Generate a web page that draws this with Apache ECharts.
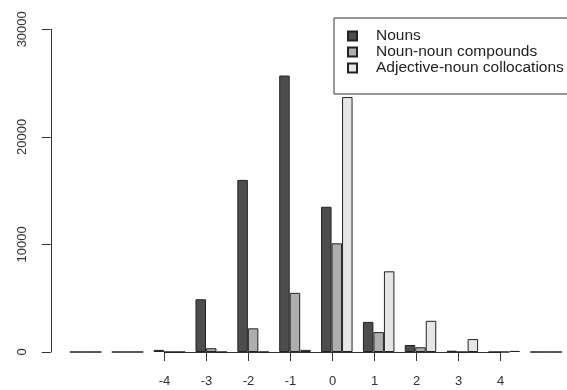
<!DOCTYPE html>
<html>
<head>
<meta charset="utf-8">
<script src="https://cdn.jsdelivr.net/npm/echarts@6/dist/echarts.min.js"></script>
<style>
  body { margin: 0; background: #fff; }
  #main { width: 567px; height: 390px; }
</style>
</head>
<body>
<div id="main"></div>
<script>
// categories (log ratio bins) and counts
let categories = ["-6", "-5", "-4", "-3", "-2", "-1", "0", "1", "2", "3", "4", "5"];
let nouns = [0, 0, 200, 4900, 16000, 25700, 13500, 2800, 650, 120, 0, 0];
let nounNoun = [0, 0, 0, 350, 2200, 5500, 10100, 1850, 440, 0, 0, 0];
let adjNoun = [0, 0, 0, 0, 0, 200, 23700, 7500, 2900, 1200, 100, 0];
let seriesNames = ["Nouns", "Noun-noun compounds", "Adjective-noun collocations"];
let barColors = ["#4d4d4d", "#aeaeae", "#e6e6e6"];
let tickLabels = [-4, 4];
let yTicks = [0, 30000, 10000];

let myChart = echarts.init(document.getElementById("main"));
let font = "'Liberation Sans', Arial, sans-serif";

function barSeries(i, data) {
  return {
    name: seriesNames[i],
    type: "bar",
    xAxisIndex: 0,
    yAxisIndex: 0,
    barWidth: 10.5,
    barGap: "0%",
    data: data,
    itemStyle: {
      color: barColors[i],
      borderColor: "#222",
      borderWidth: 1
    },
    emphasis: { disabled: true }
  };
}

let option = {
  animation: false,
  backgroundColor: "#fff",
  textStyle: { fontFamily: font },
  grid: [
    { left: 64.75, width: 504, top: 29.3, bottom: 38 },
    // second grid only carries the R-style x axis (ticks from -4 to 4)
    { left: 164.5, width: 336, top: 29.3, bottom: 38 }
  ],
  legend: {
    orient: "vertical",
    left: 334,
    top: 18,
    padding: [10, 10, 18, 13],
    itemGap: 0,
    itemWidth: 9,
    itemHeight: 9,
    icon: "rect",
    borderColor: "#333",
    borderWidth: 1,
    data: seriesNames,
    textStyle: {
      fontFamily: font,
      fontSize: 15.5,
      color: "#222",
      lineHeight: 15.5,
      padding: [0, 0, 0, 14]
    }
  },
  xAxis: [
    {
      type: "category",
      gridIndex: 0,
      data: categories,
      axisLine: { show: false },
      axisTick: { show: false },
      axisLabel: { show: false }
    },
    {
      type: "value",
      gridIndex: 1,
      min: tickLabels[0],
      max: tickLabels[1],
      interval: 1,
      splitLine: { show: false },
      axisLine: { show: true, lineStyle: { color: "#333", width: 1 } },
      axisTick: { show: true, length: 9, lineStyle: { color: "#333" } },
      axisLabel: { margin: 23, fontSize: 13, color: "#333", fontFamily: font }
    }
  ],
  yAxis: [
    {
      type: "value",
      gridIndex: 0,
      min: yTicks[0],
      max: yTicks[1],
      interval: yTicks[2],
      offset: 14,
      splitLine: { show: false },
      axisLine: { show: true, lineStyle: { color: "#333", width: 1 } },
      axisTick: { show: true, length: 9, lineStyle: { color: "#333" } },
      axisLabel: {
        rotate: 90,
        margin: 22,
        fontSize: 13,
        color: "#333",
        fontFamily: font,
        formatter: function (v) {
          return String(v);
        }
      }
    },
    {
      type: "value",
      gridIndex: 1,
      show: false
    }
  ],
  series: [
    barSeries(0, nouns),
    barSeries(1, nounNoun),
    barSeries(2, adjNoun)
  ]
};
myChart.setOption(option);
</script>
</body>
</html>
